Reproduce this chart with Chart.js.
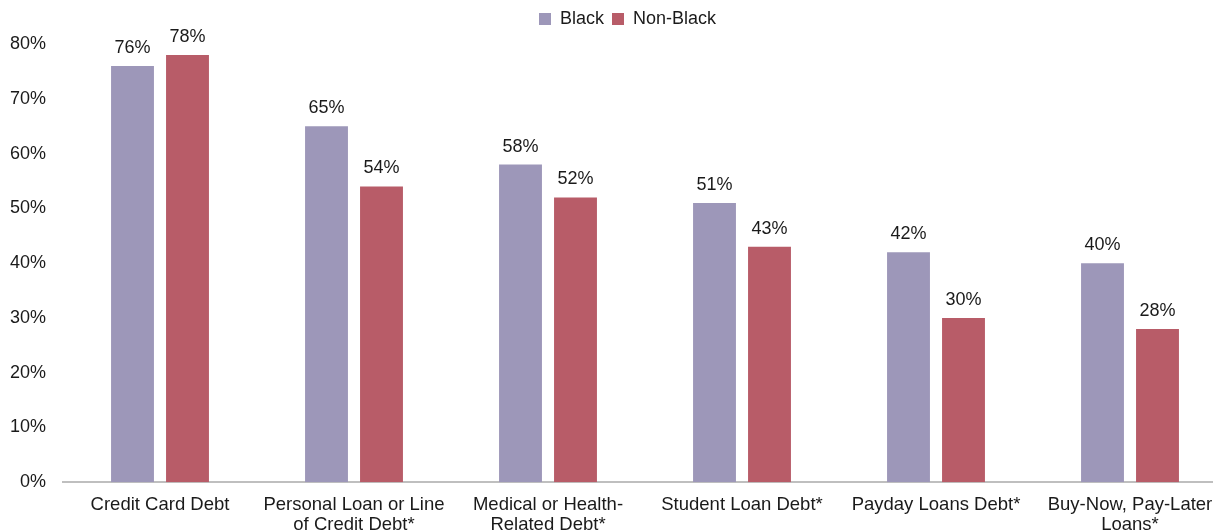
<!DOCTYPE html>
<html>
<head>
    <style>
        html, body {
            margin: 0;
            padding: 0;
            background: #ffffff;
            overflow: hidden;
        }
        #wrap {
            width: 1228px;
            height: 547px;
        }
    </style>
    <script src="https://cdn.jsdelivr.net/npm/chart.js"></script>
</head>
<body>
    <div id="wrap">
        <canvas id="debtChart" width="1228" height="547"></canvas>
    </div>
    <script>
        var categories = [
            'Credit Card Debt',
            ['Personal Loan or Line', 'of Credit Debt*'],
            ['Medical or Health-', 'Related Debt*'],
            'Student Loan Debt*',
            'Payday Loans Debt*',
            ['Buy-Now, Pay-Later', 'Loans*']
        ];
        var blackValues = [76, 65, 58, 51, 42, 40];
        var nonBlackValues = [78, 54, 52, 43, 30, 28];
        var yTicks = [0, 10, 20, 30, 40, 50, 60, 70, 80];

        var font = 'Liberation Sans, Arial, sans-serif';

        // writes the percentage above every bar
        var barLabels = {
            id: 'barLabels',
            afterDatasetsDraw: function(chart) {
                var ctx = chart.ctx;
                ctx.save();
                ctx.font = '18px ' + font;
                ctx.fillStyle = '#1a1a1a';
                ctx.textAlign = 'center';
                ctx.textBaseline = 'bottom';
                chart.data.datasets.forEach(function(ds, i) {
                    chart.getDatasetMeta(i).data.forEach(function(bar, j) {
                        ctx.fillText(ds.data[j] + '%', bar.x, bar.y - 9);
                    });
                });
                ctx.restore();
            }
        };

        // more room under the legend, and the legend sits a bit right of centre
        var legendTweak = {
            id: 'legendTweak',
            beforeInit: function(chart) {
                var fit = chart.legend.fit;
                chart.legend.fit = function() {
                    fit.call(this);
                    this.height += 6;
                };
            },
            afterLayout: function(chart) {
                chart.legend.left += 14;
                chart.legend.right += 14;
            }
        };

        var ctx = document.getElementById('debtChart').getContext('2d');
        var debtChart = new Chart(ctx, {
            type: 'bar',
            data: {
                labels: categories,
                datasets: [{
                    label: 'Black',
                    data: blackValues,
                    backgroundColor: '#9d97b9'
                }, {
                    label: 'Non-Black',
                    data: nonBlackValues,
                    backgroundColor: '#b85c68'
                }]
            },
            options: {
                responsive: false,
                animation: false,
                categoryPercentage: 0.567,
                barPercentage: 0.78,
                layout: {
                    padding: { left: 0, right: 1, top: 2, bottom: 0 }
                },
                plugins: {
                    tooltip: { enabled: false },
                    legend: {
                        position: 'top',
                        labels: {
                            color: '#1a1a1a',
                            font: { family: font, size: 18 },
                            boxWidth: 12,
                            boxHeight: 12,
                            padding: 8
                        }
                    }
                },
                scales: {
                    x: {
                        grid: { display: false, drawTicks: false },
                        border: { color: '#bfbfbf', width: 2 },
                        ticks: {
                            color: '#1a1a1a',
                            font: { family: font, size: 18.5, lineHeight: 1.1 },
                            maxRotation: 0,
                            autoSkip: false,
                            padding: 12
                        }
                    },
                    y: {
                        min: 0,
                        max: 80,
                        afterBuildTicks: function(axis) {
                            axis.ticks = yTicks.map(function(v) { return { value: v }; });
                        },
                        afterFit: function(axis) {
                            axis.width = 63;
                        },
                        grid: { display: false, drawTicks: false },
                        border: { display: false },
                        ticks: {
                            color: '#1a1a1a',
                            font: { family: font, size: 18 },
                            padding: 17,
                            callback: function(v) { return v + '%'; }
                        }
                    }
                }
            },
            plugins: [barLabels, legendTweak]
        });
    </script>
</body>
</html>
